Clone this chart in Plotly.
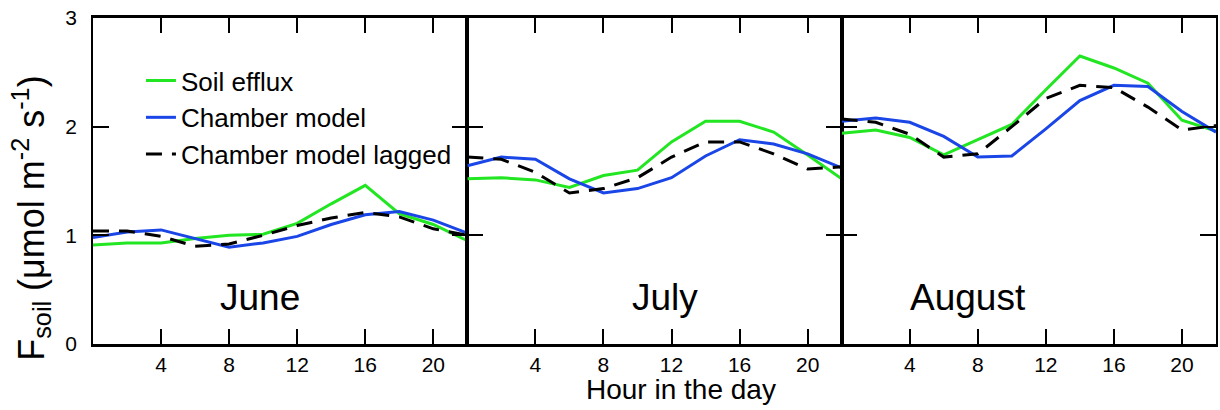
import plotly.graph_objects as go
from plotly.subplots import make_subplots

hours = [0, 2, 4, 6, 8, 10, 12, 14, 16, 18, 20, 22]
months = ["June", "July", "August"]

june_soil = [0.91, 0.93, 0.93, 0.97, 1.00, 1.01, 1.11, 1.29, 1.46, 1.20, 1.10, 0.95]
june_chamber = [0.98, 1.03, 1.05, 0.97, 0.89, 0.93, 0.99, 1.10, 1.19, 1.22, 1.14, 1.02]
june_lagged = [1.04, 1.04, 0.99, 0.90, 0.92, 1.00, 1.09, 1.16, 1.21, 1.17, 1.06, 1.00]

july_soil = [1.52, 1.53, 1.51, 1.44, 1.55, 1.60, 1.86, 2.05, 2.05, 1.95, 1.74, 1.52]
july_chamber = [1.64, 1.72, 1.70, 1.52, 1.39, 1.43, 1.53, 1.73, 1.88, 1.84, 1.75, 1.62]
july_lagged = [1.72, 1.70, 1.58, 1.39, 1.43, 1.53, 1.72, 1.86, 1.86, 1.75, 1.61, 1.63]

aug_soil = [1.94, 1.97, 1.90, 1.74, 1.88, 2.02, 2.34, 2.65, 2.54, 2.40, 2.06, 1.96]
aug_chamber = [2.05, 2.08, 2.04, 1.91, 1.72, 1.73, 1.98, 2.24, 2.38, 2.37, 2.14, 1.95]
aug_lagged = [2.07, 2.04, 1.93, 1.72, 1.75, 2.00, 2.26, 2.38, 2.36, 2.18, 1.97, 2.01]

series_names = ["Soil efflux", "Chamber model", "Chamber model lagged"]
month_data = [
    (june_soil, june_chamber, june_lagged),
    (july_soil, july_chamber, july_lagged),
    (aug_soil, aug_chamber, aug_lagged),
]
label_x = [9.8, 11.6, 7.4]
label_y = 0.43

x_ticks = [4, 8, 12, 16, 20]
y_ticks = [0, 1, 2, 3]

GREEN = "#22e622"
BLUE = "#1a46e8"
BLACK = "#000000"
styles = [
    dict(color=GREEN, width=3),
    dict(color=BLUE, width=3),
    dict(color=BLACK, width=3, dash="16px,10px"),
]

FONT = "Liberation Sans, Arial, sans-serif"

fig = make_subplots(rows=1, cols=3, shared_yaxes=True, horizontal_spacing=0)

for c, data in enumerate(month_data):
    for s, (name, vals) in enumerate(zip(series_names, data)):
        fig.add_trace(
            go.Scatter(
                x=hours, y=vals, mode="lines", name=name,
                line=styles[s], showlegend=(c == 0),
            ),
            row=1, col=c + 1,
        )
    fig.add_annotation(
        x=label_x[c], y=label_y, text=months[c], showarrow=False,
        font=dict(size=37, family=FONT, color="black"),
        xref=f"x{'' if c == 0 else c + 1}", yref="y",
    )

for c in range(3):
    fig.update_xaxes(
        range=[0, 22], tickvals=x_ticks, ticks="inside", ticklen=15,
        tickwidth=2, tickcolor="black", showline=True, linewidth=2.5,
        linecolor="black", mirror="ticks", showgrid=False, zeroline=False,
        tickfont=dict(size=21, family=FONT, color="black"),
        row=1, col=c + 1,
    )
    fig.update_yaxes(
        range=[0, 3], tickvals=y_ticks, ticks="inside", ticklen=16,
        tickwidth=2, tickcolor="black", showline=True, linewidth=1.5,
        linecolor="black", mirror="ticks", showgrid=False, zeroline=False,
        tickfont=dict(size=21, family=FONT, color="black"),
        row=1, col=c + 1,
    )

fig.update_yaxes(ticklabelstandoff=10, row=1, col=1)

# axis titles
fig.add_annotation(
    text="F<sub>soil</sub> (μmol m<sup>-2</sup> s<sup>-1</sup>)",
    xref="paper", yref="paper", x=-0.055, y=0.385, textangle=-90,
    xanchor="center", yanchor="middle", showarrow=False,
    font=dict(size=36, family=FONT, color="black"),
)
fig.add_annotation(
    text="Hour in the day",
    xref="paper", yref="paper", x=0.5236, y=-0.141,
    xanchor="center", yanchor="middle", showarrow=False,
    font=dict(size=28, family=FONT, color="black"),
)

fig.update_layout(
    width=1220, height=410,
    margin=dict(l=93, r=2, t=18, b=66),
    paper_bgcolor="white", plot_bgcolor="white",
    font=dict(family=FONT, color="black"),
    legend=dict(
        x=0.0427, y=0.88, xanchor="left", yanchor="top",
        font=dict(size=26, family=FONT, color="black"),
        bgcolor="rgba(0,0,0,0)", tracegroupgap=0,
    ),
)

fig.write_html("out.html")
